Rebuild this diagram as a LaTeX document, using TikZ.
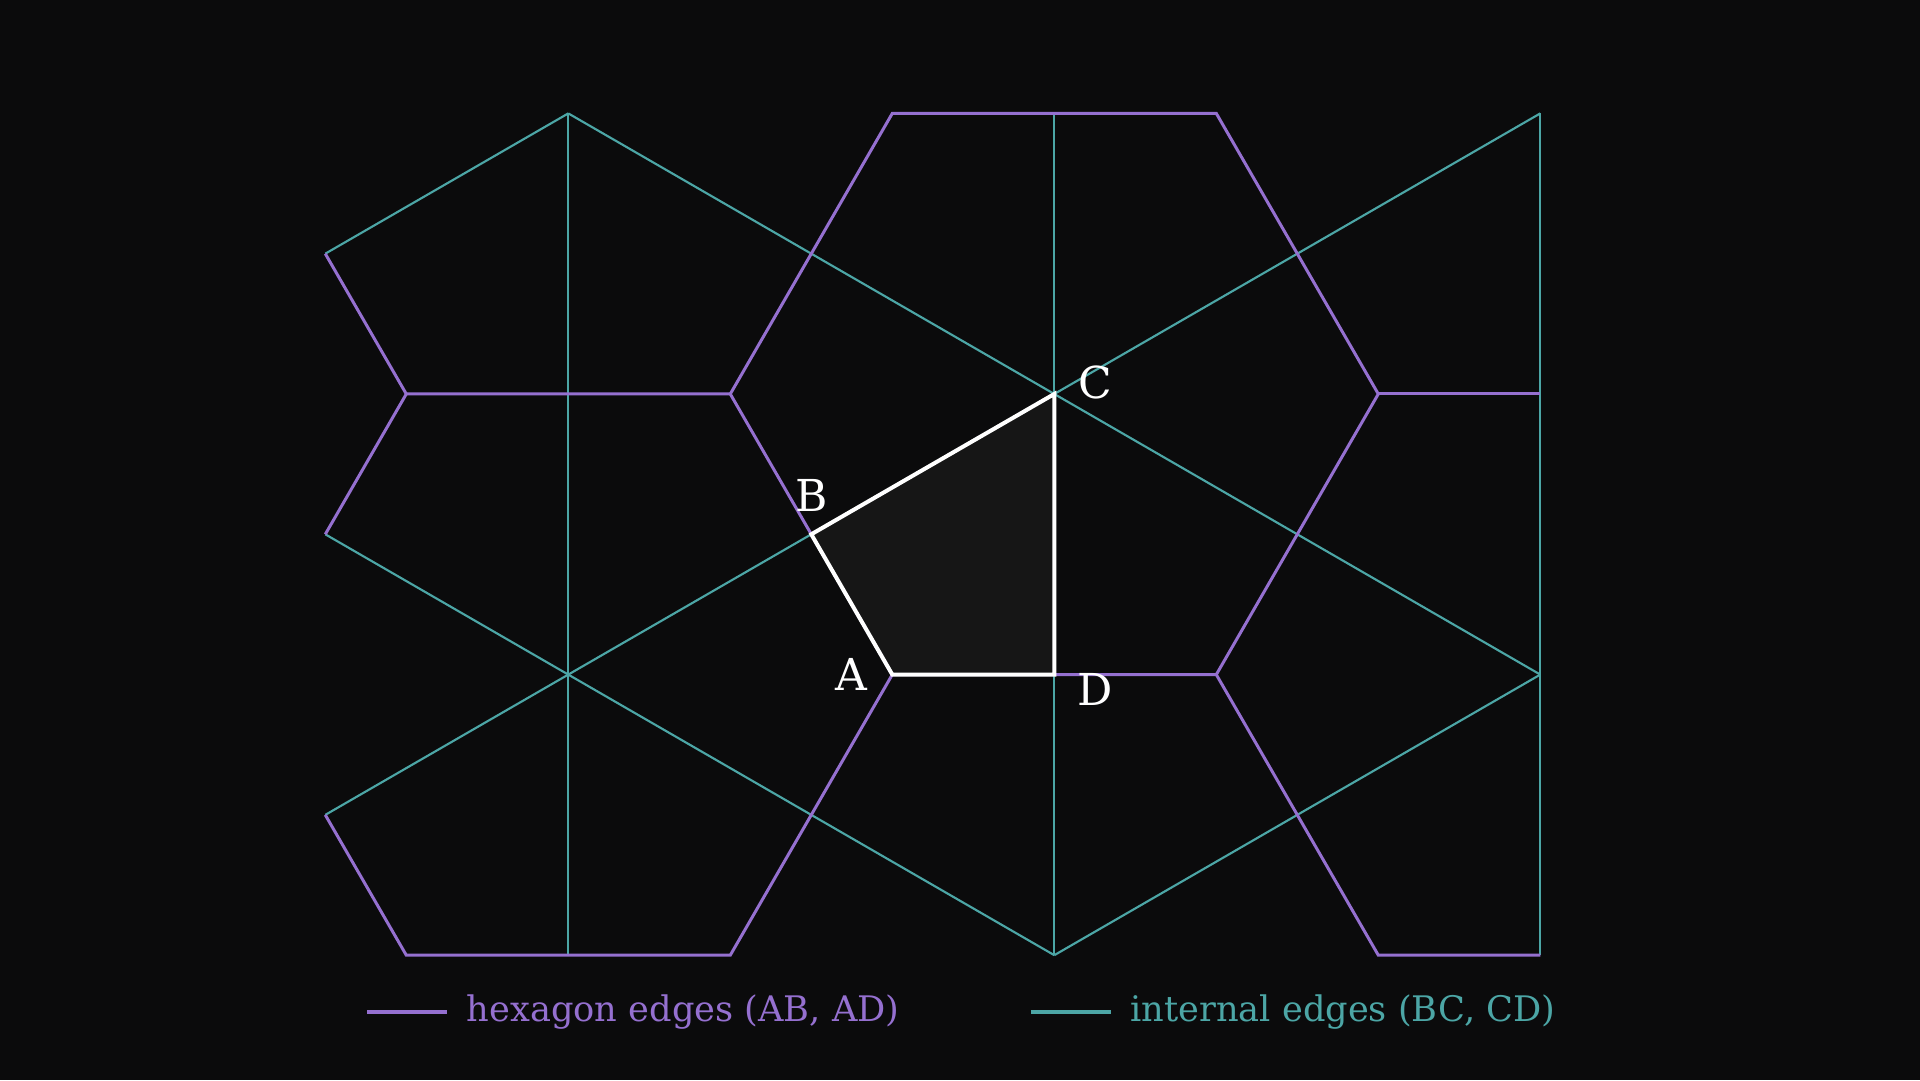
\documentclass[tikz,border=0pt]{standalone}
\usepackage{fontspec}
\setmainfont{DejaVu Serif}
\definecolor{bgc}{HTML}{0B0B0C}
\definecolor{hexc}{HTML}{9570D0}
\definecolor{intc}{HTML}{4CA6A6}
\definecolor{kitefill}{HTML}{161616}
\begin{document}
\begin{tikzpicture}[x=243pt,y=243pt,
  hexedge/.style={draw=hexc,line width=2.25pt,line cap=butt},
  intedge/.style={draw=intc,line width=1.6pt,line cap=butt},
  kite/.style={draw=white,fill=kitefill,line width=3pt,line join=miter},
  lbl/.style={text=white,inner sep=0pt,font=\fontsize{33}{40}\selectfont},
  legtext/.style={inner sep=0pt,anchor=base west,font=\fontsize{26.4}{31}\selectfont},
  legline/.style={line width=3pt}]
\pgfmathsetmacro{\h}{0.8660254}
% background / bounding box
\fill[bgc] (-3.2540,-2.1173) rectangle (2.6719,1.2160);
\useasboundingbox (-3.2540,-2.1173) rectangle (2.6719,1.2160);
% named coordinates
\coordinate (C) at (0,0);
\coordinate (D) at (0,-\h);
\coordinate (A) at (-0.5,-\h);
\coordinate (B) at (-0.75,-\h/2);
\coordinate (R1) at (1,0);
\coordinate (L1) at (-1,0);
\coordinate (TL) at (-0.5,\h);
\coordinate (TR) at (0.5,\h);
\coordinate (BR) at (0.5,-\h);
\coordinate (LL) at (-2,0);
\coordinate (LB1) at (-2,-2*\h);
\coordinate (LB2) at (-1,-2*\h);
\coordinate (RB1) at (1,-2*\h);
\coordinate (RB2) at (1.5,-2*\h);
\coordinate (RM) at (1.5,0);
\coordinate (EL1) at (-2.25,\h/2);
\coordinate (EL2) at (-2.25,-\h/2);
\coordinate (EL3) at (-2.25,-1.5*\h);
\coordinate (CT1) at (-1.5,\h);
\coordinate (CT2) at (0,\h);
\coordinate (CT3) at (1.5,\h);
\coordinate (CB1) at (-1.5,-2*\h);
\coordinate (CB2) at (0,-2*\h);
\coordinate (CR) at (1.5,-\h);
% internal edges
\draw[intedge] (EL1) -- (CT1);
\draw[intedge] (CT1) -- (CR);
\draw[intedge] (EL2) -- (CB2);
\draw[intedge] (EL3) -- (CT3);
\draw[intedge] (CB2) -- (CR);
\draw[intedge] (CT1) -- (CB1);
\draw[intedge] (CT2) -- (CB2);
\draw[intedge] (CT3) -- (RB2);
% hexagon edges
\draw[hexedge] (EL1) -- (LL) -- (L1);
\draw[hexedge] (LL) -- (EL2);
\draw[hexedge] (L1) -- (TL) -- (TR) -- (R1) -- (BR) -- (A) -- cycle;
\draw[hexedge] (R1) -- (RM);
\draw[hexedge] (A) -- (LB2) -- (LB1) -- (EL3);
\draw[hexedge] (BR) -- (RB1) -- (RB2);
% highlighted kite
\draw[kite] (A) -- (B) -- (C) -- (D) -- cycle;
% labels
\node[lbl] (labA) at (-0.625,-0.867) {A};
\node[lbl] (labB) at (-0.749,-0.312) {B};
\node[lbl] (labC) at (0.126,0.037) {C};
\node[lbl] (labD) at (0.126,-0.911) {D};
% legend
\coordinate (l1s) at (-2.121,-1.908);
\coordinate (l1e) at (-1.873,-1.908);
\coordinate (l2s) at (-0.072,-1.908);
\coordinate (l2e) at (0.174,-1.908);
\draw[legline,hexc] (l1s) -- (l1e);
\draw[legline,intc] (l2s) -- (l2e);
\node[legtext,text=hexc] (leg1) at (-1.814,-1.937) {hexagon edges (AB, AD)};
\node[legtext,text=intc] (leg2) at (0.234,-1.937) {internal edges (BC, CD)};
\end{tikzpicture}
\end{document}
